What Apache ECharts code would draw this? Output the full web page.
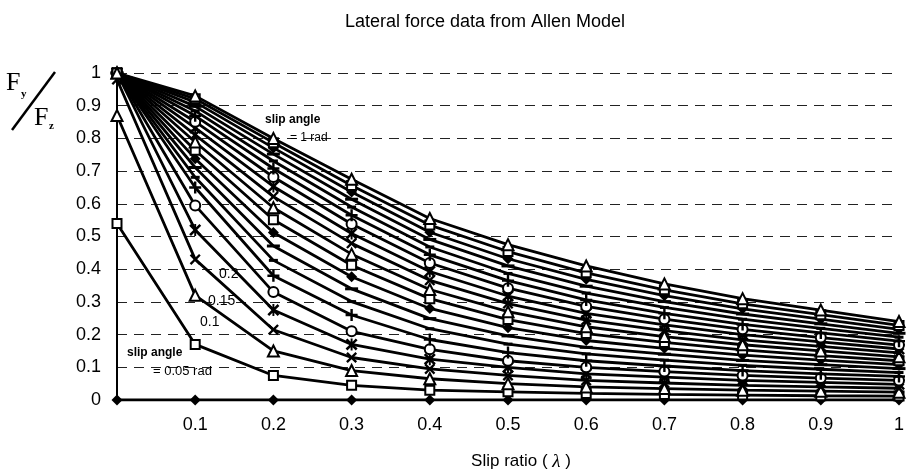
<!DOCTYPE html>
<html>
<head>
<meta charset="utf-8">
<script src="https://cdn.jsdelivr.net/npm/echarts@6/dist/echarts.min.js"></script>
<style>
  html, body { margin: 0; padding: 0; background: #fff; }
  #main { width: 907px; height: 476px; }
</style>
</head>
<body>
<div id="main"></div>
<script>
// slip ratio (x axis)
const slipRatio = [0, 0.1, 0.2, 0.3, 0.4, 0.5, 0.6, 0.7, 0.8, 0.9, 1];

// Fy/Fz for each slip angle (rad)
const alpha000 = [0, 0, 0, 0, 0, 0, 0, 0, 0, 0, 0];
const alpha005 = [0.54, 0.17, 0.075, 0.045, 0.03, 0.025, 0.02, 0.017, 0.015, 0.013, 0.012];
const alpha010 = [0.87, 0.32, 0.15, 0.09, 0.065, 0.05, 0.04, 0.035, 0.03, 0.027, 0.024];
const alpha015 = [0.98, 0.43, 0.215, 0.13, 0.095, 0.075, 0.06, 0.052, 0.045, 0.04, 0.036];
const alpha020 = [1, 0.52, 0.275, 0.17, 0.125, 0.1, 0.08, 0.07, 0.06, 0.054, 0.048];
const alpha025 = [1, 0.595, 0.33, 0.21, 0.155, 0.12, 0.1, 0.087, 0.075, 0.067, 0.06];
const alpha030 = [1, 0.65, 0.38, 0.26, 0.185, 0.145, 0.12, 0.104, 0.09, 0.08, 0.072];
const alpha035 = [1, 0.681, 0.427, 0.301, 0.218, 0.171, 0.141, 0.122, 0.106, 0.094, 0.084];
const alpha040 = [1, 0.711, 0.471, 0.34, 0.249, 0.196, 0.161, 0.14, 0.121, 0.108, 0.096];
const alpha045 = [1, 0.738, 0.512, 0.377, 0.28, 0.221, 0.182, 0.158, 0.137, 0.122, 0.108];
const alpha050 = [1, 0.764, 0.551, 0.412, 0.31, 0.246, 0.203, 0.176, 0.153, 0.136, 0.12];
const alpha055 = [1, 0.789, 0.588, 0.446, 0.338, 0.27, 0.224, 0.194, 0.169, 0.15, 0.132];
const alpha060 = [1, 0.811, 0.622, 0.479, 0.366, 0.295, 0.244, 0.212, 0.184, 0.164, 0.144];
const alpha065 = [1, 0.832, 0.653, 0.509, 0.393, 0.318, 0.265, 0.23, 0.2, 0.178, 0.156];
const alpha070 = [1, 0.851, 0.682, 0.538, 0.419, 0.342, 0.286, 0.247, 0.216, 0.191, 0.168];
const alpha075 = [1, 0.869, 0.708, 0.565, 0.444, 0.365, 0.306, 0.265, 0.231, 0.205, 0.18];
const alpha080 = [1, 0.884, 0.731, 0.59, 0.468, 0.387, 0.327, 0.283, 0.247, 0.219, 0.192];
const alpha085 = [1, 0.898, 0.752, 0.614, 0.491, 0.41, 0.348, 0.301, 0.263, 0.233, 0.204];
const alpha090 = [1, 0.911, 0.771, 0.636, 0.513, 0.432, 0.369, 0.319, 0.279, 0.247, 0.216];
const alpha095 = [1, 0.921, 0.787, 0.656, 0.535, 0.454, 0.389, 0.337, 0.294, 0.261, 0.228];
const alpha100 = [1, 0.93, 0.8, 0.675, 0.555, 0.475, 0.41, 0.355, 0.31, 0.275, 0.24];

const curves = [alpha000, alpha005, alpha010, alpha015, alpha020, alpha025, alpha030,
  alpha035, alpha040, alpha045, alpha050, alpha055, alpha060, alpha065, alpha070,
  alpha075, alpha080, alpha085, alpha090, alpha095, alpha100];

// excel style marker cycle
const X_PATH = 'path://M0,1.5L1.5,0L5,3.5L8.5,0L10,1.5L6.5,5L10,8.5L8.5,10L5,6.5L1.5,10L0,8.5L3.5,5Z';
const STAR_PATH = 'path://M0,1.5L1.5,0L4.2,2.7L4.2,0L5.8,0L5.8,2.7L8.5,0L10,1.5L6.5,5L10,8.5L8.5,10L5.8,7.3L5.8,10L4.2,10L4.2,7.3L1.5,10L0,8.5L3.5,5Z';
const PLUS_PATH = 'path://M4,0L6,0L6,4L10,4L10,6L6,6L6,10L4,10L4,6L0,6L0,4L4,4Z';
const DASH_PATH = 'path://M0,0L10,0L10,2L0,2Z';
const markers = [
  { symbol: 'diamond', size: 11, fill: '#000' },
  { symbol: 'rect', size: 9, fill: '#fff' },
  { symbol: 'triangle', size: 11, fill: '#fff' },
  { symbol: X_PATH, size: 11, fill: '#000' },
  { symbol: STAR_PATH, size: 12, fill: '#000' },
  { symbol: 'circle', size: 10, fill: '#fff' },
  { symbol: PLUS_PATH, size: 12, fill: '#000' },
  { symbol: DASH_PATH, size: [9, 3], fill: '#000' },
  { symbol: DASH_PATH, size: [13, 3], fill: '#000' }
];

const series = curves.map((vals, i) => {
  const m = markers[i % markers.length];
  return {
    name: 'alpha ' + (i * 0.05).toFixed(2),
    type: 'line',
    data: slipRatio.map((x, j) => [x, vals[j]]),
    symbol: m.symbol,
    symbolSize: m.size,
    showSymbol: true,
    lineStyle: { color: '#000', width: 2.8 },
    itemStyle: { color: m.fill, borderColor: '#000', borderWidth: m.fill === '#fff' ? 2 : 0 },
    z: 2 + i
  };
});

const font = "'Liberation Sans', Arial, sans-serif";

const options = {
  animation: false,
  backgroundColor: '#fff',
  title: {
    text: 'Lateral force data from Allen Model',
    left: 480,
    top: 8,
    textAlign: 'center',
    textStyle: { fontFamily: font, fontSize: 18, fontWeight: 'normal', color: '#000' }
  },
  grid: { left: 117, right: 2, top: 73, bottom: 73 },
  xAxis: {
    type: 'value',
    min: 0,
    max: 1,
    interval: 0.1,
    name: 'Slip ratio ( {i|λ} )',
    nameLocation: 'middle',
    nameGap: 52,
    nameTextStyle: {
      fontFamily: font, fontSize: 17, color: '#000', padding: [0, 0, 0, 26],
      rich: { i: { fontFamily: "'Liberation Serif', serif", fontStyle: 'italic', fontSize: 19, color: '#000' } }
    },
    axisLine: { lineStyle: { color: '#000', width: 2 } },
    axisTick: { show: false },
    splitLine: { show: false },
    axisLabel: {
      fontFamily: font, fontSize: 18, color: '#000', margin: 16,
      formatter: v => (v === 0 ? '' : String(+v.toFixed(1)))
    }
  },
  yAxis: {
    type: 'value',
    min: 0,
    max: 1,
    interval: 0.1,
    axisLine: { show: true, lineStyle: { color: '#000', width: 2 } },
    axisTick: { show: false },
    splitLine: { lineStyle: { color: '#222', type: [10, 7], width: 1.2 } },
    axisLabel: {
      fontFamily: font, fontSize: 18, color: '#000', margin: 16,
      formatter: v => String(+v.toFixed(1))
    }
  },
  graphic: [
    { type: 'text', left: 6, top: 70, style: { text: 'F', font: "26px 'Liberation Serif', serif", fill: '#000' } },
    { type: 'text', left: 21, top: 89, style: { text: 'y', font: "bold 11px 'Liberation Serif', serif", fill: '#000' } },
    { type: 'line', shape: { x1: 12, y1: 130, x2: 55, y2: 72 }, style: { stroke: '#000', lineWidth: 2.5 } },
    { type: 'text', left: 34, top: 105, style: { text: 'F', font: "26px 'Liberation Serif', serif", fill: '#000' } },
    { type: 'text', left: 49, top: 121, style: { text: 'z', font: "bold 11px 'Liberation Serif', serif", fill: '#000' } },
    { type: 'text', left: 265, top: 114, z: 100, style: { text: 'slip angle', font: 'bold 12px ' + font, fill: '#000' } },
    { type: 'text', left: 290, top: 132, z: 100, style: { text: '= 1 rad', font: '12px ' + font, fill: '#000' } },
    { type: 'text', left: 219, top: 267, z: 100, style: { text: '0.2', font: '14px ' + font, fill: '#000' } },
    { type: 'text', left: 208, top: 294, z: 100, style: { text: '0.15', font: '14px ' + font, fill: '#000' } },
    { type: 'text', left: 200, top: 315, z: 100, style: { text: '0.1', font: '14px ' + font, fill: '#000' } },
    { type: 'text', left: 127, top: 347, z: 100, style: { text: 'slip angle', font: 'bold 12px ' + font, fill: '#000' } },
    { type: 'text', left: 153, top: 365, z: 100, style: { text: '= 0.05 rad', font: '13px ' + font, fill: '#000' } }
  ],
  series: series
};

const myChart = echarts.init(document.getElementById('main'));
myChart.setOption(options);
</script>
</body>
</html>
